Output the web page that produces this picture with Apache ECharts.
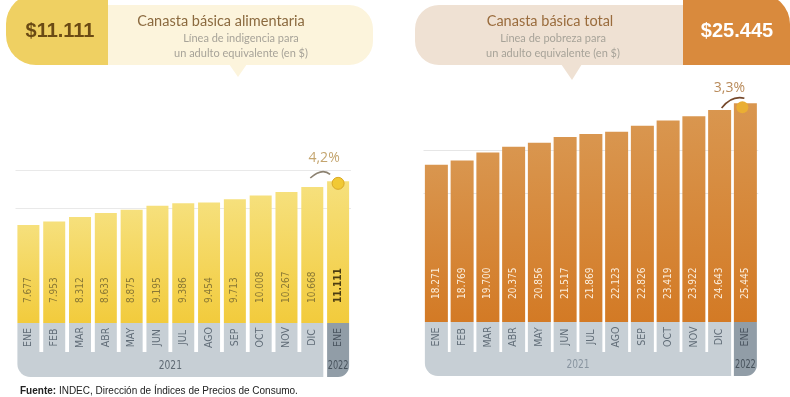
<!DOCTYPE html>
<html>
<head>
<meta charset="utf-8">
<script src="https://cdn.jsdelivr.net/npm/echarts@6/dist/echarts.min.js"></script>
<style>
html, body { margin: 0; padding: 0; background: #fff; }
#chart { width: 790px; height: 397px; }
</style>
</head>
<body>
<div id="chart"></div>
<script>
// data
var months = ['ENE', 'FEB', 'MAR', 'ABR', 'MAY', 'JUN', 'JUL', 'AGO', 'SEP', 'OCT', 'NOV', 'DIC', 'ENE'];
var years = ['2021', '2022'];
var alimentaria = [7677, 7953, 8312, 8633, 8875, 9195, 9386, 9454, 9713, 10008, 10267, 10668, 11111];
var total = [18271, 18769, 19700, 20375, 20856, 21517, 21869, 22123, 22826, 23419, 23922, 24643, 25445];
var headline = ['$11.111', '$25.445'];

var NARROW = "'Liberation Sans Narrow', 'DejaVu Sans Condensed', sans-serif";

function fmt(v) {
  return String(v).replace(/\B(?=(\d{3})+(?!\d))/g, '.');
}
function pct(a, b) {
  return ((b / a - 1) * 100).toFixed(1).replace('.', ',') + '%';
}

function catAxis(idx, boxW, boxH) {
  return {
    type: 'category', gridIndex: idx, data: months,
    axisLine: { show: false }, axisTick: { show: false },
    axisLabel: {
      interval: 0, rotate: 90, margin: 0,
      formatter: function (v, i) { return (i === 12 ? '{d|' : '{n|') + v + '}'; },
      rich: {
        n: { width: boxH, height: boxW, lineHeight: boxW, align: 'center', backgroundColor: '#c7cfd5',
             color: '#616d78', fontSize: 10.5, fontFamily: NARROW },
        d: { width: boxH, height: boxW, lineHeight: boxW, align: 'center', backgroundColor: '#919da7',
             color: '#4a5560', fontSize: 10.5, fontFamily: NARROW }
      }
    }
  };
}

function valAxis(idx, max, step, colors) {
  return {
    type: 'value', gridIndex: idx, min: 0, max: max, interval: step,
    axisLine: { show: false }, axisTick: { show: false }, axisLabel: { show: false },
    splitLine: { lineStyle: { color: colors, width: 1 } }
  };
}

var myChart = echarts.init(document.getElementById('chart'));

option = {
  animation: false,
  grid: [
    { left: 15.5, top: 170, width: 335.5, height: 153 },
    { left: 423.5, top: 64, width: 334.75, height: 258 }
  ],
  xAxis: [catAxis(0, 22, 29), catAxis(1, 23, 30)],
  yAxis: [
    valAxis(0, 12000, 3000, ['rgba(0,0,0,0)', 'rgba(0,0,0,0)', 'rgba(0,0,0,0)', '#e9e9e9', '#e9e9e9']),
    valAxis(1, 30000, 5000, ['rgba(0,0,0,0)', 'rgba(0,0,0,0)', 'rgba(0,0,0,0)', '#e6e6e6', '#e6e6e6', 'rgba(0,0,0,0)', 'rgba(0,0,0,0)'])
  ],
  series: [
    {
      type: 'bar', xAxisIndex: 0, yAxisIndex: 0, barWidth: 22,
      data: alimentaria.map(function (v, i) {
        return i === 12 ? { value: v, label: { fontWeight: 'bold', color: '#4b3d12' } } : v;
      }),
      itemStyle: {
        color: new echarts.graphic.LinearGradient(0, 0, 0, 1, [
          { offset: 0, color: '#f6e07c' }, { offset: 1, color: '#f2cb3c' }
        ])
      },
      label: {
        show: true, position: 'insideBottom', distance: 20, rotate: 90, align: 'left', verticalAlign: 'middle',
        formatter: function (p) { return fmt(p.value); },
        color: '#8a7835', fontSize: 10, fontFamily: NARROW
      },
      markPoint: {
        symbol: 'circle', symbolSize: 12, symbolOffset: [0, 2],
        itemStyle: { color: '#f1c934', borderColor: '#d9a826', borderWidth: 1 },
        label: { show: false },
        data: [{ coord: [12, alimentaria[12]] }]
      }
    },
    {
      type: 'bar', xAxisIndex: 1, yAxisIndex: 1, barWidth: 23,
      data: total,
      itemStyle: {
        color: new echarts.graphic.LinearGradient(0, 0, 0, 1, [
          { offset: 0, color: '#d9964f' }, { offset: 1, color: '#d37a25' }
        ])
      },
      label: {
        show: true, position: 'insideBottom', distance: 23, rotate: 90, align: 'left', verticalAlign: 'middle',
        formatter: function (p) { return fmt(p.value); },
        color: '#fbeedd', fontSize: 10, fontFamily: NARROW
      },
      markPoint: {
        symbol: 'circle', symbolSize: 12, symbolOffset: [-3, 4],
        itemStyle: { color: '#eaae33' },
        label: { show: false },
        data: [{ coord: [12, total[12]] }]
      }
    }
  ]
};

myChart.setOption(option);

// year bands, growth arcs, headers
var gfx = [];

function yearBand(idx, bw, boxH, bandH, textColor, data, arc) {
  var c0 = myChart.convertToPixel({ xAxisIndex: idx }, 0);
  var c11 = myChart.convertToPixel({ xAxisIndex: idx }, 11);
  var c12 = myChart.convertToPixel({ xAxisIndex: idx }, 12);
  var yb = myChart.convertToPixel({ yAxisIndex: idx }, 0) + boxH;
  gfx.push({ type: 'rect', shape: { x: c0 - bw / 2, y: yb, width: c11 - c0 + bw, height: bandH, r: [0, 0, 0, 13] },
             style: { fill: '#c7cfd5' } });
  gfx.push({ type: 'rect', shape: { x: c12 - bw / 2, y: yb, width: bw, height: bandH, r: [0, 0, 11, 0] },
             style: { fill: '#919da7' } });
  gfx.push({ type: 'text', x: (c0 + c11) / 2, y: yb + bandH / 2 + 1, scaleX: 0.78,
             style: { text: years[0], fill: textColor, font: '13px ' + NARROW, align: 'center', verticalAlign: 'middle' } });
  gfx.push({ type: 'text', x: c12, y: yb + bandH / 2 + 1, scaleX: 0.7,
             style: { text: years[1], fill: '#48535d', font: '13px ' + NARROW, align: 'center', verticalAlign: 'middle' } });

  var p11 = myChart.convertToPixel({ seriesIndex: idx }, [11, data[11]]);
  var p12 = myChart.convertToPixel({ seriesIndex: idx }, [12, data[12]]);
  gfx.push({ type: 'bezierCurve',
             shape: { x1: p11[0] + arc.s[0], y1: p11[1] + arc.s[1], x2: p12[0] + arc.e[0], y2: p12[1] + arc.e[1],
                      cpx1: p12[0] + arc.c[0], cpy1: p12[1] + arc.c[1] },
             style: { stroke: arc.stroke, lineWidth: 1.6, fill: null } });
  gfx.push({ type: 'text', x: p12[0] + arc.t[0], y: p12[1] + arc.t[1],
             style: { text: pct(data[11], data[12]), fill: arc.color, font: '14px "Open Sans", sans-serif',
                      align: 'center', verticalAlign: 'middle' } });
}

yearBand(0, 22, 29, 25, '#5f6a74', alimentaria,
  { s: [-2, -9], e: [-8, -7], c: [-16, -14], t: [-14, -23], stroke: '#8c8271', color: '#c4a56f' });
yearBand(1, 23, 30, 24, '#8995a0', total,
  { s: [2, -2], e: [-1, -5], c: [-14, -8], t: [-16, -15], stroke: '#74472a', color: '#b98b5b' });

// left header
gfx.push({ type: 'rect', shape: { x: 100, y: 5, width: 273, height: 60, r: [0, 24, 24, 0] }, style: { fill: '#fcf4dc' } });
gfx.push({ type: 'polygon', shape: { points: [[229, 64], [247, 64], [238, 77]] }, style: { fill: '#fcf4dc' } });
gfx.push({ type: 'rect', shape: { x: 6, y: -6, width: 102, height: 71, r: [30, 0, 0, 30] }, style: { fill: '#efd062' } });
gfx.push({ type: 'text', x: 60, y: 31, style: { text: headline[0], fill: '#6a4a14', font: 'bold 20px "Liberation Sans", Arial, sans-serif', align: 'center', verticalAlign: 'middle' } });
gfx.push({ type: 'text', x: 221, y: 21, style: { text: 'Canasta básica alimentaria', fill: '#8b6a3f', font: '14.5px Lato, sans-serif', align: 'center', verticalAlign: 'middle' } });
gfx.push({ type: 'text', x: 241, y: 38, style: { text: 'Línea de indigencia para', fill: '#a7a399', font: '11px Lato, sans-serif', align: 'center', verticalAlign: 'middle' } });
gfx.push({ type: 'text', x: 241, y: 53, style: { text: 'un adulto equivalente (en $)', fill: '#a7a399', font: '11px Lato, sans-serif', align: 'center', verticalAlign: 'middle' } });

// right header
gfx.push({ type: 'rect', shape: { x: 415, y: 5, width: 275, height: 60, r: [24, 0, 0, 24] }, style: { fill: '#efe1d3' } });
gfx.push({ type: 'polygon', shape: { points: [[561, 64], [582, 64], [572, 80]] }, style: { fill: '#efe1d3' } });
gfx.push({ type: 'rect', shape: { x: 683, y: -6, width: 107, height: 71, r: [0, 30, 0, 0] }, style: { fill: '#d98a3d' } });
gfx.push({ type: 'text', x: 737, y: 31, style: { text: headline[1], fill: '#ffffff', font: 'bold 20px "Liberation Sans", Arial, sans-serif', align: 'center', verticalAlign: 'middle' } });
gfx.push({ type: 'text', x: 550, y: 21, style: { text: 'Canasta básica total', fill: '#9a6c3d', font: '14.5px Lato, sans-serif', align: 'center', verticalAlign: 'middle' } });
gfx.push({ type: 'text', x: 553, y: 38, style: { text: 'Línea de pobreza para', fill: '#a7a399', font: '11px Lato, sans-serif', align: 'center', verticalAlign: 'middle' } });
gfx.push({ type: 'text', x: 553, y: 53, style: { text: 'un adulto equivalente (en $)', fill: '#a7a399', font: '11px Lato, sans-serif', align: 'center', verticalAlign: 'middle' } });

// source
gfx.push({ type: 'text', x: 20, y: 391, style: {
  text: '{b|Fuente:} INDEC, Dirección de Índices de Precios de Consumo.',
  fill: '#222', font: '10px "Liberation Sans", Arial, sans-serif', verticalAlign: 'middle',
  rich: { b: { fontWeight: 'bold', fontSize: 10, fontFamily: '"Liberation Sans", Arial, sans-serif', fill: '#222' } }
} });

myChart.setOption({ graphic: gfx });
</script>
</body>
</html>
